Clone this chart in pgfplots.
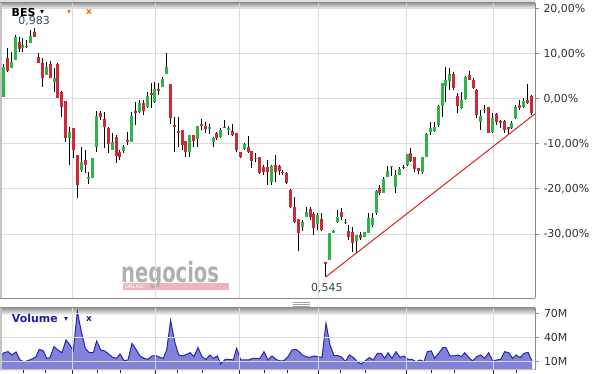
\documentclass[border=0pt]{standalone}
\usepackage{pgfplots}
\pgfplotsset{compat=1.18}
\usepackage{pgfplotstable}
\usepackage{fontspec}
\setmainfont{DejaVu Sans}
\definecolor{gridgray}{HTML}{DCDCDC}
\definecolor{axisgray}{HTML}{8A8A8A}
\definecolor{bordergray}{HTML}{C4C4C4}
\definecolor{labelcol}{HTML}{333333}
\definecolor{valcol}{HTML}{2F4F5F}
\definecolor{candred}{HTML}{CC2A36}
\definecolor{candgreen}{HTML}{2DB44A}
\definecolor{trendred}{HTML}{E02020}
\definecolor{volblue}{HTML}{2424BE}
\definecolor{volline}{HTML}{2424B4}
\definecolor{bluetext}{HTML}{1C1CA8}
\definecolor{orangec}{HTML}{FF6A00}
\definecolor{wmgray}{HTML}{B0B0B0}
\definecolor{wmpink}{HTML}{F0B4BA}

\pgfplotstableread{
n O H L C D
0 3.78 4.22 0.00 0.22 0
1 0.44 7.78 0.44 7.11 1
2 9.11 11.33 6.00 6.22 0
3 6.89 10.44 6.89 8.22 1
4 8.67 14.22 8.67 13.78 1
5 12.67 13.78 10.44 11.11 0
6 11.33 13.56 10.44 12.00 1
7 11.70 13.10 11.30 11.80 1
8 12.44 15.33 12.44 14.00 1
9 14.89 15.78 13.78 13.78 0
10 9.33 10.22 8.00 8.00 0
11 8.00 9.11 2.67 4.67 0
12 5.33 8.22 5.33 7.11 1
13 7.78 8.44 4.67 4.67 0
14 3.78 6.89 1.56 4.67 1
15 7.78 8.00 0.22 0.22 0
16 1.56 1.78 -4.00 -1.78 0
17 -0.44 -0.44 -9.56 -8.67 0
18 -8.67 -6.22 -14.67 -7.33 1
19 -6.44 -6.44 -13.11 -11.33 0
20 -12.44 -12.44 -22.00 -19.11 0
21 -15.78 -10.67 -16.22 -14.00 1
22 -13.56 -11.33 -16.44 -14.67 0
23 -17.60 -16.22 -18.89 -17.50 1
24 -17.56 -13.11 -17.56 -13.11 1
25 -10.67 -2.67 -11.78 -3.78 1
26 -3.11 -2.67 -4.67 -4.00 0
27 -4.44 -2.89 -10.89 -6.22 0
28 -6.44 -6.22 -12.00 -10.00 0
29 -11.33 -7.56 -11.33 -9.56 1
30 -8.44 -8.00 -14.22 -12.67 0
31 -11.78 -11.33 -13.56 -12.89 0
32 -11.56 -10.22 -12.00 -10.67 1
33 -9.11 -7.33 -10.22 -9.56 0
34 -9.56 -2.89 -9.56 -3.78 1
35 -2.80 -0.67 -5.78 -2.90 0
36 -2.89 -0.22 -3.11 -0.89 1
37 -0.89 -0.22 -3.56 -2.67 0
38 -1.78 1.56 -2.00 0.67 1
39 1.33 3.56 -2.00 0.89 0
40 -0.67 3.78 -0.89 2.22 1
41 2.22 3.56 0.89 1.78 0
42 2.67 4.89 2.67 4.44 1
43 5.56 10.22 5.56 7.11 1
44 3.33 3.33 -5.56 -4.22 0
45 -5.90 -4.00 -11.78 -6.00 0
46 -7.11 -4.00 -10.67 -7.56 0
47 -6.89 -6.89 -11.33 -10.22 0
48 -9.33 -9.33 -12.89 -11.78 0
49 -11.78 -8.00 -12.89 -8.00 1
50 -8.00 -8.00 -10.67 -9.33 0
51 -8.89 -6.00 -10.67 -6.00 1
52 -5.70 -4.44 -6.89 -5.80 0
53 -6.00 -5.11 -7.56 -6.67 0
54 -6.50 -5.56 -7.78 -6.40 1
55 -9.56 -8.44 -10.67 -8.67 1
56 -7.56 -7.33 -9.11 -8.67 0
57 -8.44 -6.44 -8.67 -6.89 1
58 -6.20 -4.67 -6.44 -6.30 0
59 -6.70 -6.00 -8.00 -6.60 1
60 -7.11 -5.56 -8.22 -8.00 0
61 -7.56 -7.56 -11.78 -11.33 0
62 -11.78 -11.78 -13.11 -12.89 0
63 -11.11 -9.78 -11.33 -10.00 1
64 -10.67 -8.22 -12.00 -11.78 0
65 -11.56 -11.56 -15.33 -13.78 0
66 -13.20 -12.00 -14.00 -13.10 1
67 -12.89 -12.89 -16.67 -16.44 0
68 -15.11 -14.67 -16.89 -16.22 0
69 -15.11 -13.56 -19.11 -16.22 0
70 -18.44 -14.67 -19.11 -14.89 1
71 -14.67 -12.44 -18.44 -16.22 0
72 -14.89 -14.67 -16.89 -16.00 0
73 -16.20 -15.78 -16.89 -16.30 0
74 -16.44 -16.22 -18.89 -18.67 0
75 -20.22 -20.00 -24.22 -24.00 0
76 -24.00 -21.78 -27.56 -27.33 0
77 -26.67 -26.67 -33.78 -29.78 0
78 -28.44 -26.89 -29.33 -27.33 1
79 -26.22 -24.00 -26.22 -25.11 1
80 -24.44 -24.00 -26.89 -26.22 0
81 -25.56 -25.11 -30.22 -28.67 0
82 -27.78 -25.33 -29.11 -25.78 1
83 -26.67 -25.33 -29.33 -29.11 0
84 -36.22 -36.22 -39.56 -36.67 0
85 -35.78 -29.78 -35.78 -29.78 1
86 -29.60 -29.11 -29.78 -29.50 1
87 -27.33 -24.67 -27.56 -26.22 1
88 -25.11 -24.22 -26.89 -26.22 0
89 -27.40 -26.67 -27.78 -27.30 1
90 -29.33 -28.00 -31.33 -30.67 0
91 -29.56 -28.44 -34.00 -32.00 0
92 -31.56 -30.22 -34.22 -30.22 1
93 -30.22 -29.56 -31.33 -30.89 0
94 -30.67 -29.56 -30.67 -29.56 1
95 -29.78 -25.33 -29.78 -26.44 1
96 -28.00 -25.33 -28.44 -26.44 1
97 -25.33 -20.22 -25.78 -20.44 1
98 -19.78 -19.11 -21.33 -20.89 0
99 -20.89 -17.33 -20.89 -17.78 1
100 -17.33 -14.89 -17.33 -16.00 1
101 -15.00 -14.89 -17.11 -14.90 1
102 -19.56 -15.78 -20.89 -16.89 1
103 -16.89 -15.11 -16.89 -15.56 1
104 -15.10 -14.67 -15.56 -15.20 0
105 -14.67 -12.22 -14.89 -12.22 1
106 -12.00 -10.89 -14.00 -13.78 0
107 -12.89 -12.89 -16.22 -15.56 0
108 -15.33 -15.33 -16.67 -16.00 0
109 -16.22 -12.89 -16.67 -12.89 1
110 -12.89 -7.56 -12.89 -7.78 1
111 -7.33 -5.11 -8.00 -6.44 1
112 -7.11 -5.11 -7.33 -6.22 1
113 -5.78 -1.33 -6.22 -1.56 1
114 -1.56 3.56 -4.00 3.56 1
115 2.89 7.11 -0.67 4.22 1
116 4.00 6.89 2.00 5.56 1
117 5.56 6.00 2.00 2.44 0
118 0.67 1.33 -3.11 -1.56 0
119 -2.00 1.56 -2.22 -0.22 1
120 0.00 5.11 -0.22 4.89 1
121 5.33 6.22 4.22 4.22 0
122 4.22 4.67 2.22 2.44 0
123 2.00 2.22 -4.22 -3.56 0
124 -5.11 -2.44 -6.89 -3.78 1
125 -2.30 -1.33 -3.11 -2.20 1
126 -1.78 -1.78 -7.56 -7.56 0
127 -7.33 -3.11 -7.56 -4.22 1
128 -3.33 -3.11 -5.78 -5.11 0
129 -5.05 -4.67 -6.44 -5.15 0
130 -4.89 -4.67 -7.56 -6.89 0
131 -6.40 -6.22 -8.00 -6.50 0
132 -6.44 -4.89 -6.67 -5.33 1
133 -4.22 -1.33 -4.44 -1.78 1
134 -1.33 -0.22 -2.44 -2.00 0
135 -1.78 0.22 -2.00 -0.44 1
136 -0.22 3.33 -1.11 -0.89 0
137 0.67 0.89 -3.56 -3.11 0
}\candles

\pgfplotstableread{
n v
0.08 16.6
1.11 21.6
2.14 22.9
3.17 18.8
4.20 22.5
5.23 12.5
6.26 10.4
7.29 11.7
8.33 13.8
9.36 16.6
10.21 25.8
11.25 23.8
12.11 14.6
12.96 15.4
13.99 29.2
15.03 25.0
16.06 21.6
17.09 37.5
17.95 32.1
18.98 24.2
20.01 72.9
21.04 47.9
22.07 27.1
23.10 21.6
24.13 21.6
24.99 36.2
26.02 25.0
27.05 23.8
28.08 20.0
29.11 15.8
30.15 14.6
31.01 20.0
32.04 11.7
33.07 12.5
34.10 33.3
35.13 25.8
36.16 17.5
37.19 14.6
38.22 13.3
39.25 17.5
40.28 17.9
41.31 15.8
42.17 14.6
43.03 25.0
44.06 61.7
45.09 35.4
46.13 18.8
47.16 17.5
48.19 19.6
49.05 21.6
50.08 16.6
51.11 27.9
52.14 16.6
53.17 13.3
54.20 18.8
55.06 14.6
56.09 17.5
56.95 7.5
58.15 13.3
59.18 13.3
60.21 12.5
61.07 27.1
62.10 12.5
63.13 12.5
64.17 12.5
65.20 14.6
66.23 14.6
67.09 14.6
68.12 22.9
69.15 12.5
70.18 17.5
71.21 13.3
72.24 11.2
73.27 11.7
74.30 16.6
75.33 25.0
76.37 25.8
77.40 22.0
77.91 18.8
78.94 16.6
79.97 15.8
81.00 17.5
82.03 16.6
83.07 15.8
84.10 58.3
85.13 31.2
86.16 17.9
87.19 17.9
88.22 15.8
89.08 10.4
90.11 18.8
91.14 15.8
92.17 10.4
93.20 7.5
94.23 11.7
95.26 15.4
96.30 12.5
97.33 20.8
98.36 20.8
99.22 14.6
100.08 21.6
101.11 14.6
102.14 22.9
103.17 15.8
104.20 17.5
105.23 13.3
106.26 13.3
107.29 10.4
108.32 12.5
109.35 10.4
110.21 22.9
111.24 23.8
112.10 14.6
113.13 20.8
114.17 27.9
115.02 27.9
116.06 17.5
117.09 17.5
118.12 18.8
118.98 16.6
119.84 21.6
120.87 15.8
121.90 11.2
122.93 16.6
123.96 18.8
124.99 14.6
126.02 21.6
127.05 11.2
128.08 12.5
129.11 13.3
130.14 22.9
131.18 21.6
132.21 14.6
133.07 18.8
134.10 15.4
135.13 20.8
136.16 22.1
137.19 11.2
}\volumes

\begin{document}
\begin{tikzpicture}[x=1bp,y=1bp]
\useasboundingbox[fill=white] (0bp,0bp) rectangle (598bp,374bp);

% panel shadows
\fill[black!12] (0bp,371bp) rectangle (535bp,374bp);
\shade[top color=black!40, bottom color=white] (0bp,365bp) rectangle (535bp,371bp);
\fill[black!22] (0bp,66bp) rectangle (535bp,67bp);
\shade[top color=black!40, bottom color=white] (0bp,59bp) rectangle (535bp,66bp);

% watermark
\fill[wmpink] (123bp,84bp) rectangle (229bp,91bp);
\node[anchor=west, inner sep=0pt, text=white, font=\fontsize{5}{5}\selectfont] at (125bp,87.5bp) {ONLINE};
\node[anchor=base west, inner sep=0pt, text=wmgray, xscale=0.7, font=\bfseries\fontsize{28}{28}\selectfont] at (121bp,91bp) {negocios};

\begin{axis}[
  at={(0bp,76bp)}, anchor=south west,
  scale only axis, width=535bp, height=295bp,
  xmin=0.08, xmax=137.96, ymin=-44.22, ymax=21.33,
  axis line style={draw=none},
  xtick={18.89,40.28,61.93,82.04,104.97,127.14},
  xticklabels={},
  xtick style={draw=none},
  xmajorgrids, ymajorgrids,
  grid style={draw=gridgray, line width=1bp},
  ytick={-30,-20,-10,0,10,20},
  yticklabels={{-30,00\%},{-20,00\%},{-10,00\%},{0,00\%},{10,00\%},{20,00\%}},
  ytick pos=right, yticklabel pos=right,
  tick align=outside, major tick length=3.5bp,
  ytick style={draw=axisgray, line width=1bp},
  tick label style={font=\fontsize{11}{13}\selectfont, text=labelcol},
  yticklabel style={anchor=west, xshift=1.5bp},
]
% wicks
\addplot[draw=none, mark=none, error bars/.cd, y dir=both, y explicit, error mark=none,
  error bar style={draw=black, line width=1bp}]
  table[x=n, y expr={(\thisrow{H}+\thisrow{L})/2}, y error expr={(\thisrow{H}-\thisrow{L})/2}] {\candles};
% red bodies (green rows pushed out of the domain and discarded)
\addplot[draw=none, mark=none, restrict y to domain=-500:500, error bars/.cd, y dir=both, y explicit, error mark=none,
  error bar style={draw=candred, line width=3bp}]
  table[x=n, y expr={(\thisrow{O}+\thisrow{C})/2+1000*\thisrow{D}}, y error expr={max(abs(\thisrow{O}-\thisrow{C})/2,0.12)}] {\candles};
% green bodies
\addplot[draw=none, mark=none, restrict y to domain=-500:500, error bars/.cd, y dir=both, y explicit, error mark=none,
  error bar style={draw=candgreen, line width=3bp}]
  table[x=n, y expr={(\thisrow{O}+\thisrow{C})/2+1000*(1-\thisrow{D})}, y error expr={max(abs(\thisrow{O}-\thisrow{C})/2,0.12)}] {\candles};
% trend line
\addplot[trendred, line width=1bp] coordinates {(84,-39.56) (137.96,-3.3)};
\end{axis}

\begin{axis}[
  at={(0bp,4bp)}, anchor=south west,
  scale only axis, width=535bp, height=62bp,
  xmin=0.08, xmax=137.96, ymin=0, ymax=77.5,
  axis line style={draw=none},
  axis on top,
  xtick={18.89,40.28,61.93,82.04,104.97,127.14},
  minor xtick={6.01,11.93,25.08,31.01,45.95,52.14,68.12,74.30,87.96,94.15,111.16,117.09,133.07},
  xticklabels={},
  xmajorgrids, ymajorgrids,
  grid style={draw=gridgray, line width=1bp},
  ytick={10,40,70},
  yticklabels={10M,40M,70M},
  xtick pos=left, ytick pos=right, yticklabel pos=right,
  tick align=outside, major tick length=4bp, minor tick length=2.5bp,
  xtick style={draw=labelcol, line width=1bp},
  ytick style={draw=axisgray, line width=1bp},
  tick label style={font=\fontsize{11}{13}\selectfont, text=labelcol},
  yticklabel style={anchor=west, xshift=1.5bp},
]
\addplot[draw=none, fill=volblue, fill opacity=0.57] table[x=n, y=v] {\volumes} \closedcycle;
\addplot[volline, line width=1bp] table[x=n, y=v] {\volumes};
\end{axis}

% panel borders
\draw[bordergray, line width=1.5bp] (0.75bp,76bp) -- (0.75bp,371bp);
\draw[bordergray, line width=1.5bp] (0.75bp,4bp) -- (0.75bp,66bp);
\draw[axisgray, line width=1bp] (0bp,75.5bp) -- (535bp,75.5bp);
\draw[bordergray, line width=1bp] (0bp,4.5bp) -- (535bp,4.5bp);
\draw[axisgray, line width=1bp] (535bp,76bp) -- (535bp,371bp);
\draw[axisgray, line width=1bp] (535bp,4bp) -- (535bp,66bp);

% drag handle
\foreach \yy in {68,70,72} \draw[black!35, line width=0.8bp] (293bp,\yy bp) -- (310bp,\yy bp);

% header texts
\node[anchor=base west, inner sep=0pt, font=\bfseries\fontsize{11}{13}\selectfont] at (11.5bp,357.3bp) {BES};
\node[inner sep=0pt, font=\fontsize{8}{8}\selectfont] at (42bp,361.5bp) {▾};
\node[inner sep=0pt, text=orangec, font=\fontsize{8}{8}\selectfont] at (69bp,361.5bp) {▾};
\node[inner sep=0pt, text=orangec, font=\bfseries\fontsize{9}{9}\selectfont] at (89bp,361.5bp) {x};
\node[anchor=base west, inner sep=0pt, text=valcol, font=\fontsize{11}{13}\selectfont] at (18.3bp,349bp) {0,983};
\node[anchor=base west, inner sep=0pt, text=valcol, font=\fontsize{11}{13}\selectfont] at (311bp,82bp) {0,545};

\node[anchor=base west, inner sep=0pt, text=bluetext, font=\bfseries\fontsize{11}{13}\selectfont] at (11.7bp,51bp) {Volume};
\node[inner sep=0pt, text=bluetext, font=\fontsize{8}{8}\selectfont] at (66bp,55bp) {▾};
\node[inner sep=0pt, text=bluetext, font=\bfseries\fontsize{9}{9}\selectfont] at (89bp,55bp) {x};
\end{tikzpicture}
\end{document}
